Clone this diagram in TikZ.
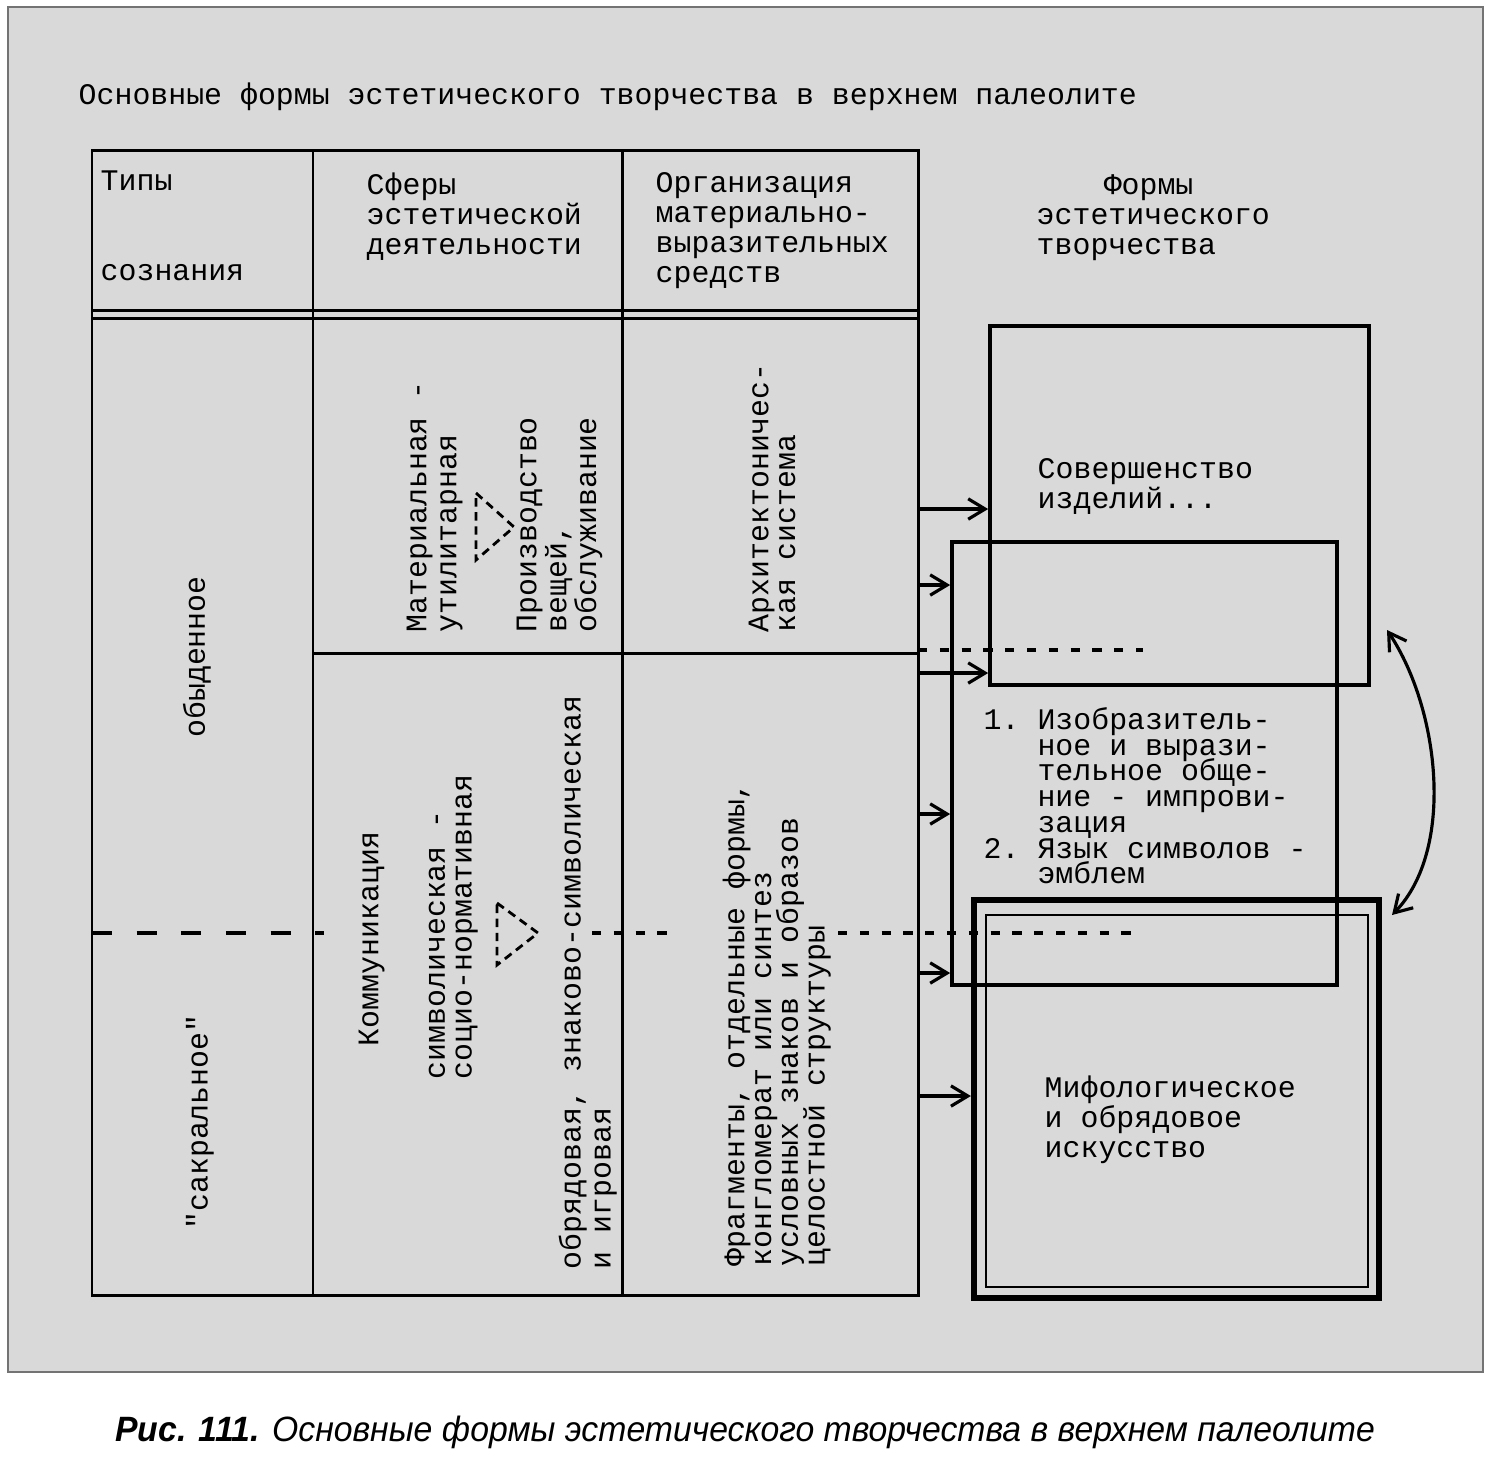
\documentclass[tikz,border=0pt]{standalone}
\usepackage{fontspec}
\setmonofont{Liberation Mono}
\newfontfamily\capfont[FakeStretch=0.96]{Liberation Sans}
\usetikzlibrary{arrows.meta, positioning}
\newcommand\tw{\ttfamily\frenchspacing\fontsize{8.5}{8.5}\selectfont\lineskiplimit=-20pt\relax}
\newcommand\twt{\ttfamily\frenchspacing\fontsize{8.5}{7.6}\selectfont\lineskiplimit=-20pt\relax}
\newcommand\twb{\ttfamily\frenchspacing\fontsize{8.5}{7.3}\selectfont\lineskiplimit=-20pt\relax}

\begin{document}
\begin{tikzpicture}[x=0.01cm, y=-0.01cm, >={Straight Barb[length=4.8pt,width=5.8pt]},
    lbl/.style={font=\tw, align=left, inner sep=0pt, anchor=north west},
    tight/.style={font=\twt},
    up/.style={lbl, rotate=90},
    tline/.style={line width=0.85pt},
    arr/.style={->, line width=0.9pt},
    ldash/.style={line width=0.9pt, dash pattern=on 5.7pt off 7pt},
    sdash/.style={line width=0.9pt, dash pattern=on 2.6pt off 3.6pt},
    tri/.style={line width=0.8pt, dash pattern=on 2.4pt off 1.6pt}]
    \useasboundingbox (0,0) rectangle (1491,1469);
    \fill[black!15] (8,7) rectangle (1483,1372);
    \draw[black!55, line width=0.4pt] (8,7) rectangle (1483,1372);

    \node[lbl] (title) at (78,82) {Основные формы эстетического творчества в верхнем палеолите};

    % table
    \draw[tline] (92,150) rectangle (918,1295);
    \draw[tline] (313,150) -- (313,1295) (622,150) -- (622,1295);
    \draw[tline] (92,310) -- (918,310) (92,318) -- (918,318);
    \draw[tline] (313,653) -- (918,653);

    \node[lbl] (h1a) at (100,170) {Типы};
    \node[lbl] (h1b) at (100,264) {сознания};
    \node[lbl] (h2) at (366,172) {Сферы\\эстетической\\деятельности};
    \node[lbl] (h3) at (655,172) {Организация\\материально-\\выразительных\\средств};
    \node[lbl] (h4) at (1036,174) {\hspace{0.67cm}Формы\\эстетического\\творчества};

    \node[lbl, rotate=90, anchor=center] (t1) at (197,657) {обыденное};
    \node[lbl, rotate=90, anchor=center] (t2) at (200,1122) {"сакральное"};

    \node[up] (s1) at (406,633) {Материальная -\\утилитарная};
    \draw[tri] (476,493) -- (514,527) -- (476,560) -- cycle;
    \node[up] (s2) at (516,633) {Производство\\вещей,\\обслуживание};
    \node[up] (s3) at (358,1047) {Коммуникация};
    \node[up, tight] (s4) at (428,1080) {символическая -\\социо-нормативная};
    \draw[tri] (497,903) -- (538,933) -- (497,965) -- cycle;
    \node[up] (s5) at (558,1270) {обрядовая, знаково-символическая\\и игровая};

    \node[up, tight] (m1) at (748,633) {Архитектоничес-\\кая система};
    \node[up, tight] (m2) at (722,1267) {Фрагменты, отдельные формы,\\конгломерат или синтез\\условных знаков и образов\\целостной структуры};

    % forms
    \node[draw, line width=1pt, minimum width=3.79cm, minimum height=3.59cm] (boxA) at (1179.5,505.5) {};
    \node[draw, line width=1pt, minimum width=3.85cm, minimum height=4.43cm] (boxB) at (1144.5,763.5) {};
    \node[draw, line width=1.7pt, minimum width=4.05cm, minimum height=3.98cm] (boxC) at (1176.5,1099) {};
    \node[draw, line width=0.7pt, minimum width=3.82cm, minimum height=3.72cm] (boxCin) at (1177,1101) {};

    \node[lbl] (fA) at (1037,458) {Совершенство\\изделий...};
    \node[lbl, font=\twb] (fB) at (983,707) {1.~Изобразитель-\\\phantom{1.~}ное и вырази-\\\phantom{1.~}тельное обще-\\\phantom{1.~}ние - импрови-\\\phantom{1.~}зация\\2.~Язык символов -\\\phantom{1.~}эмблем};
    \node[lbl] (fC) at (1044,1075) {Мифологическое\\и обрядовое\\искусство};

    \foreach \n/\y/\b in {1/509/boxA, 2/585/boxB, 3/673/boxA, 4/814/boxB, 5/973/boxB, 6/1096/boxC} {
        \coordinate (e\n) at (918,\y);
        \draw[arr] (e\n) -- (e\n -| \b.west);
    }

    \draw[sdash] (918,650) -- (1143,650);
    \draw[ldash] (92,933) -- (324,933);
    \draw[sdash] (592,933) -- (668,933);
    \draw[sdash] (838,933) -- (1131,933);

    \coordinate (cA) at (1387,630);
    \coordinate (cC) at (1392,915);
    \draw[arr, <->] (cA) .. controls (1440,710) and (1455,850) .. (cC);

    \node[font=\capfont\fontsize{10}{12}\selectfont, anchor=base] (cap) at (745,1441) {\itshape{\bfseries Рис. 111.} Основные формы эстетического творчества в верхнем палеолите};
\end{tikzpicture}
\end{document}
